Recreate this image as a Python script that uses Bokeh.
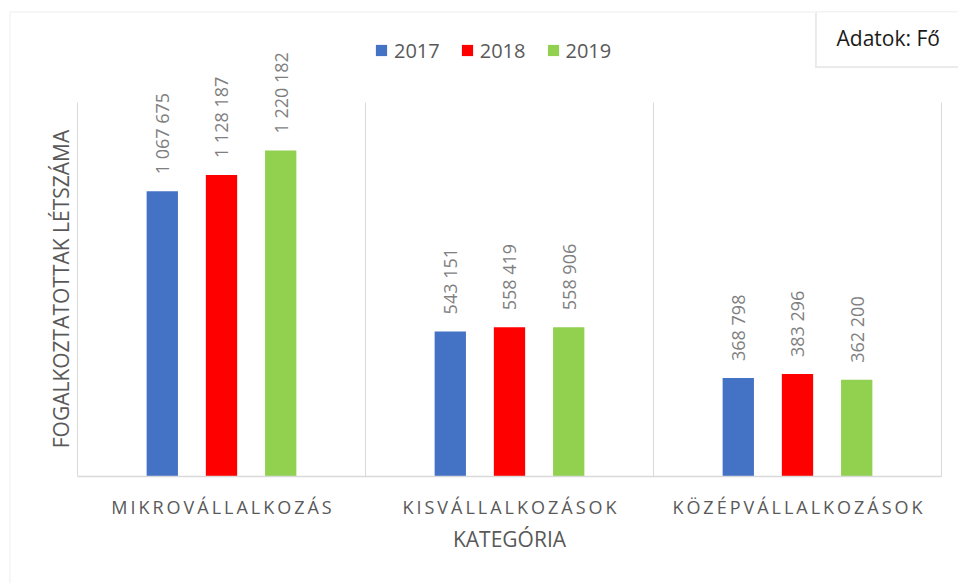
from math import pi
from bokeh.plotting import figure
from bokeh.models import (ColumnDataSource, Range1d, LabelSet, FixedTicker,
                          BoxAnnotation, Label, Legend)
from bokeh.core.properties import value
from bokeh.transform import dodge
from bokeh.embed import file_html
from bokeh.resources import INLINE

categories = ["MIKROVÁLLALKOZÁS", "KISVÁLLALKOZÁSOK", "KÖZÉPVÁLLALKOZÁSOK"]
years = ["2017", "2018", "2019"]
v2017 = [1067675, 543151, 368798]
v2018 = [1128187, 558419, 383296]
v2019 = [1220182, 558906, 362200]
colors = ["#4472C4", "#FF0000", "#92D050"]
y_max = 1400000
x_title = "KATEGÓRIA"
y_title = "FOGALKOZTATOTTAK LÉTSZÁMA"
unit_note = "Adatok: Fő"

FONT = "Open Sans"
GRAY = "#595959"

W, H = 958, 583
# pixel geometry of the plotting area
FL, FR, FT, FB = 77, 941, 102, 476
CAT_PX = (FR - FL) / len(categories)
PX = y_max / (FB - FT)          # data units per pixel (y)
x0 = -FL / CAT_PX
x1 = len(categories) + (W - FR) / CAT_PX
y0 = -(H - FB) * PX
y1 = FB * PX

def cx(px):
    return x0 + px / CAT_PX

def cy(py):
    return (FB - py) * PX

def fmt(v):
    return f"{v:,}".replace(",", " ")

centers = [i + 0.5 for i in range(len(categories))]
src = ColumnDataSource(dict(
    xc=centers,
    v2017=v2017, v2018=v2018, v2019=v2019,
    t2017=[fmt(v) for v in v2017],
    t2018=[fmt(v) for v in v2018],
    t2019=[fmt(v) for v in v2019],
))

p = figure(width=W, height=H, output_backend="svg", toolbar_location=None,
           x_range=Range1d(x0, x1), y_range=Range1d(y0, y1),
           min_border=0, min_border_left=0, min_border_right=0,
           min_border_top=0, min_border_bottom=0)
p.title.visible = False
p.outline_line_color = None
p.xgrid.grid_line_color = None
p.ygrid.grid_line_color = None
p.background_fill_color = "white"
p.border_fill_color = "white"

# outer chart border
p.add_layout(BoxAnnotation(left=cx(9.5), right=cx(W + 20), top=cy(11.5),
                           bottom=cy(H + 20), fill_alpha=0,
                           line_color="#d9d9d9", line_width=1.5))
# unit box with faint shadow
p.add_layout(BoxAnnotation(left=cx(814.5), right=cx(W + 20), top=cy(12.5),
                           bottom=cy(67.5), fill_color="#e9e9e9", fill_alpha=1,
                           line_color=None))
p.add_layout(BoxAnnotation(left=cx(816), right=cx(W + 20), top=cy(11.5),
                           bottom=cy(66), fill_color="white", fill_alpha=1,
                           line_color="#d9d9d9", line_width=1))
p.add_layout(Label(x=cx(836), y=cy(37.5), text=unit_note, text_font=FONT,
                   text_font_size="21px", text_color="#1a1a1a",
                   text_baseline="middle", text_align="left"))

# category separators
bounds = list(range(len(categories) + 1))
p.segment(x0=bounds, y0=0, x1=bounds, y1=y_max, line_color="#d9d9d9",
          line_width=1)

off = 0.2056
bw = 0.1087
items = []
for yr, col, d in zip(years, colors, [-off, 0, off]):
    r = p.vbar(x=dodge("xc", d), top="v" + yr, width=bw, source=src,
               fill_color=col, line_color=None)
    items.append((yr, [r]))
    p.add_layout(LabelSet(x=dodge("xc", d), y="v" + yr, text="t" + yr,
                          source=src, angle=pi / 2, text_align="left",
                          text_baseline="middle", y_offset=17,
                          text_font=value(FONT), text_font_size="18px",
                          text_color="#7f7f7f"))

legend = Legend(items=items, orientation="horizontal",
                location=(374, H - 63.5),
                padding=0, margin=0, spacing=20, label_standoff=6,
                glyph_width=14, glyph_height=14, label_height=14,
                border_line_color=None, background_fill_alpha=0,
                label_text_font=FONT, label_text_font_size="20px",
                label_text_color=GRAY)
p.add_layout(legend, "center")

# x axis fixed on the baseline
xa = p.xaxis[0]
xa.fixed_location = 0
xa.bounds = (0, len(categories))
xa.ticker = FixedTicker(ticks=centers)
xa.major_label_overrides = {c: "\u2009".join(n) for c, n in zip(centers, categories)}
xa.axis_line_color = "#d9d9d9"
xa.axis_line_width = 1.5
xa.major_tick_line_color = None
xa.minor_tick_line_color = None
xa.major_tick_out = 0
xa.major_tick_in = 0
xa.major_label_standoff = 18
xa.major_label_text_font = FONT
xa.major_label_text_font_size = "18px"
xa.major_label_text_color = GRAY
xa.axis_label = x_title
xa.axis_label_text_font = FONT
xa.axis_label_text_font_size = "21px"
xa.axis_label_text_font_style = "normal"
xa.axis_label_text_color = GRAY
xa.axis_label_standoff = 3

# y axis: hidden line/ticks; its title is placed beside the plotting area
ya = p.yaxis[0]
ya.visible = False
p.add_layout(Label(x=cx(60), y=cy(288.5), text=y_title, angle=pi / 2,
                   text_font=FONT, text_font_size="21px", text_color=GRAY,
                   text_align="center", text_baseline="middle"))

open("out.html", "w").write(file_html(p, INLINE))
